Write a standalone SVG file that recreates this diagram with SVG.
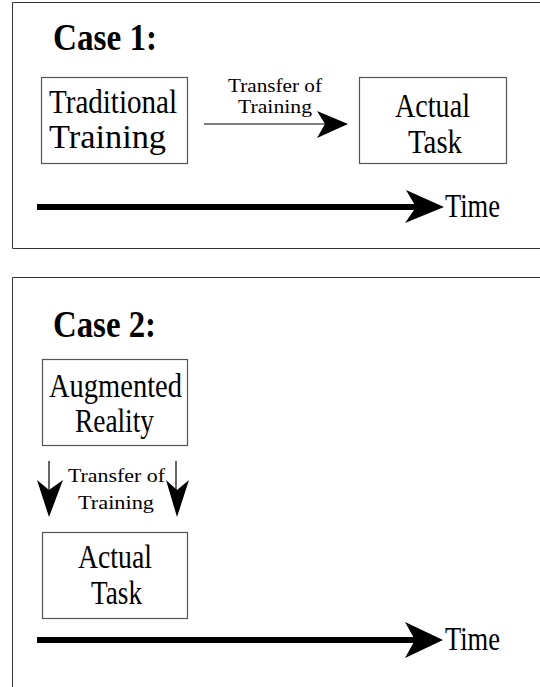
<svg xmlns="http://www.w3.org/2000/svg" width="540" height="687" viewBox="0 0 540 687">
<style>
.frame{fill:none;stroke:#333;stroke-width:1}
.box{fill:#fff;stroke:#555;stroke-width:1.2}
text{font-family:"Liberation Serif","Times New Roman",serif;fill:#000}
.title{font-weight:bold;font-size:37px}
.big{font-size:34px}
.small{font-size:19px}
.thin{stroke:#000;stroke-width:1.2;fill:none}
.thick{stroke:#000;stroke-width:6;fill:none}
.head{fill:#000;stroke:none}
</style>
<rect width="540" height="687" fill="#fff"/>
<g id="panel1">
<path class="frame" d="M12.5,2.5 H540 M12.5,2.5 V248.5 H540"/>
<text class="title" x="53" y="50" textLength="104" lengthAdjust="spacingAndGlyphs">Case 1:</text>
</g>
<g id="panel2">
<path class="frame" d="M12.5,277.5 H540 M12.5,277.5 V687"/>
<text class="title" x="53" y="337" textLength="103" lengthAdjust="spacingAndGlyphs">Case 2:</text>
</g>
<g id="traditional-training">
<rect class="box" x="41.5" y="77.5" width="146" height="86"/>
<text class="big" x="49" y="113" textLength="128" lengthAdjust="spacingAndGlyphs">Traditional</text>
<text class="big" x="49" y="148" textLength="117" lengthAdjust="spacingAndGlyphs">Training</text>
</g>
<g id="actual-task-1">
<rect class="box" x="359.5" y="77.5" width="147" height="86"/>
<text class="big" x="395" y="117" textLength="75" lengthAdjust="spacingAndGlyphs">Actual</text>
<text class="big" x="408" y="153" textLength="54" lengthAdjust="spacingAndGlyphs">Task</text>
</g>
<g id="augmented-reality">
<rect class="box" x="42.5" y="359.5" width="145" height="86"/>
<text class="big" x="49" y="397" textLength="133" lengthAdjust="spacingAndGlyphs">Augmented</text>
<text class="big" x="75" y="432" textLength="79" lengthAdjust="spacingAndGlyphs">Reality</text>
</g>
<g id="actual-task-2">
<rect class="box" x="42.5" y="532.5" width="145" height="86"/>
<text class="big" x="78" y="568" textLength="74" lengthAdjust="spacingAndGlyphs">Actual</text>
<text class="big" x="91" y="604" textLength="51" lengthAdjust="spacingAndGlyphs">Task</text>
</g>
<g id="connectors">
<path class="thin" d="M204,124 H326"/>
<path class="head" d="M348,124 L317,111 L325,124 L317,138 Z"/>
<text class="small" x="228" y="92" textLength="94" lengthAdjust="spacingAndGlyphs">Transfer of</text>
<text class="small" x="238" y="113" textLength="74" lengthAdjust="spacingAndGlyphs">Training</text>
<path class="thick" d="M37,207 H418"/>
<path class="head" d="M444,207 L406,190 L416,207 L405,223 Z"/>
<text class="big" x="445" y="217" textLength="55" lengthAdjust="spacingAndGlyphs">Time</text>
<path class="thin" d="M49,461 V492"/>
<path class="head" d="M49,517 L37,480 L49,490 L63,480 Z"/>
<path class="thin" d="M176,461 V492"/>
<path class="head" d="M177,517 L166,480 L177,490 L189,480 Z"/>
<text class="small" x="68" y="482" textLength="97" lengthAdjust="spacingAndGlyphs">Transfer of</text>
<text class="small" x="78" y="509" textLength="76" lengthAdjust="spacingAndGlyphs">Training</text>
<path class="thick" d="M37,640 H418"/>
<path class="head" d="M443,640 L405,622 L415,640 L405,658 Z"/>
<text class="big" x="445" y="650" textLength="55" lengthAdjust="spacingAndGlyphs">Time</text>
</g>
</svg>
